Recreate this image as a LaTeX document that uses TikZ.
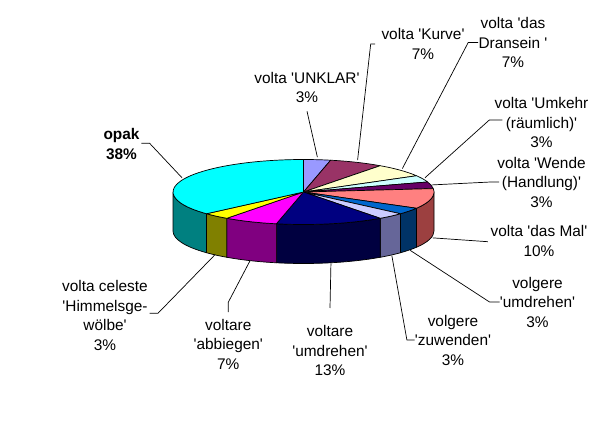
\documentclass[tikz,border=0pt]{standalone}
\usepackage{fontspec}
\setmainfont{Liberation Sans}
\usetikzlibrary{calc,positioning}
\definecolor{cUnklar}{HTML}{9999FF}
\definecolor{cKurve}{HTML}{993366}
\definecolor{cDransein}{HTML}{FFFFCC}
\definecolor{cUmkehr}{HTML}{CCFFFF}
\definecolor{cWende}{HTML}{660066}
\definecolor{cMal}{HTML}{FF8080}
\definecolor{cVolgUmdr}{HTML}{0066CC}
\definecolor{cZuwenden}{HTML}{CCCCFF}
\definecolor{cVoltUmdr}{HTML}{000080}
\definecolor{cAbbiegen}{HTML}{FF00FF}
\definecolor{cCeleste}{HTML}{FFFF00}
\definecolor{cOpak}{HTML}{00FFFF}
\definecolor{dMal}{HTML}{9C4040}
\definecolor{dVolgUmdr}{HTML}{003366}
\definecolor{dZuwenden}{HTML}{666699}
\definecolor{dVoltUmdr}{HTML}{000040}
\definecolor{dAbbiegen}{HTML}{800080}
\definecolor{dCeleste}{HTML}{808000}
\definecolor{dOpak}{HTML}{008080}
\newcommand{\sq}{\textquotesingle}
\begin{document}
\begin{tikzpicture}[x=1pt,y=1pt,line width=0.7pt,
  lbl/.style={font=\fontsize{15.4}{19.5}\selectfont,align=center,inner sep=0pt},
  slice/.style={draw=black,line join=round}]
\useasboundingbox[fill=white] (0,0) rectangle (610,432);
\begin{scope}[shift={(303.5,240)}]
\coordinate (O) at (0,0);
% side of the pie
\filldraw[slice,fill=dMal] (0:130.5 and 32.5) arc (0:-30:130.5 and 32.5) -- ++(0,-39) arc (-30:0:130.5 and 32.5) -- cycle;
\filldraw[slice,fill=dVolgUmdr] (-30:130.5 and 32.5) arc (-30:-42:130.5 and 32.5) -- ++(0,-39) arc (-42:-30:130.5 and 32.5) -- cycle;
\filldraw[slice,fill=dZuwenden] (-42:130.5 and 32.5) arc (-42:-54:130.5 and 32.5) -- ++(0,-39) arc (-54:-42:130.5 and 32.5) -- cycle;
\filldraw[slice,fill=dVoltUmdr] (-54:130.5 and 32.5) arc (-54:-102:130.5 and 32.5) -- ++(0,-39) arc (-102:-54:130.5 and 32.5) -- cycle;
\filldraw[slice,fill=dAbbiegen] (-102:130.5 and 32.5) arc (-102:-126:130.5 and 32.5) -- ++(0,-39) arc (-126:-102:130.5 and 32.5) -- cycle;
\filldraw[slice,fill=dCeleste] (-126:130.5 and 32.5) arc (-126:-138:130.5 and 32.5) -- ++(0,-39) arc (-138:-126:130.5 and 32.5) -- cycle;
\filldraw[slice,fill=dOpak] (-138:130.5 and 32.5) arc (-138:-180:130.5 and 32.5) -- ++(0,-39) arc (-180:-138:130.5 and 32.5) -- cycle;
% top of the pie
\filldraw[slice,fill=cUnklar] (O) -- (90:130.5 and 32.5) arc (90:78:130.5 and 32.5) -- cycle;
\filldraw[slice,fill=cKurve] (O) -- (78:130.5 and 32.5) arc (78:54:130.5 and 32.5) -- cycle;
\filldraw[slice,fill=cDransein] (O) -- (54:130.5 and 32.5) arc (54:30:130.5 and 32.5) -- cycle;
\filldraw[slice,fill=cUmkehr] (O) -- (30:130.5 and 32.5) arc (30:18:130.5 and 32.5) -- cycle;
\filldraw[slice,fill=cWende] (O) -- (18:130.5 and 32.5) arc (18:6:130.5 and 32.5) -- cycle;
\filldraw[slice,fill=cMal] (O) -- (6:130.5 and 32.5) arc (6:-30:130.5 and 32.5) -- cycle;
\filldraw[slice,fill=cVolgUmdr] (O) -- (-30:130.5 and 32.5) arc (-30:-42:130.5 and 32.5) -- cycle;
\filldraw[slice,fill=cZuwenden] (O) -- (-42:130.5 and 32.5) arc (-42:-54:130.5 and 32.5) -- cycle;
\filldraw[slice,fill=cVoltUmdr] (O) -- (-54:130.5 and 32.5) arc (-54:-102:130.5 and 32.5) -- cycle;
\filldraw[slice,fill=cAbbiegen] (O) -- (-102:130.5 and 32.5) arc (-102:-126:130.5 and 32.5) -- cycle;
\filldraw[slice,fill=cCeleste] (O) -- (-126:130.5 and 32.5) arc (-126:-138:130.5 and 32.5) -- cycle;
\filldraw[slice,fill=cOpak] (O) -- (-138:130.5 and 32.5) arc (-138:-270:130.5 and 32.5) -- cycle;
% where the leaders meet the pie
\coordinate (pUnklar) at (84:133 and 35);
\coordinate (pKurve) at (66:133 and 35);
\coordinate (pDransein) at (42:133 and 35);
\coordinate (pUmkehr) at (24:133 and 35);
\coordinate (pWende) at (12:131 and 34);
\coordinate (pMal) at ($(-12:132 and 33)+(0,-39)$);
\coordinate (pVolgUmdr) at ($(-36:132 and 33)+(0,-39)$);
\coordinate (pZuwenden) at ($(-48:132 and 33)+(0,-39)$);
\coordinate (pVoltUmdr) at ($(-78:132 and 33)+(0,-39)$);
\coordinate (pAbbiegen) at ($(-114:132 and 33)+(0,-39)$);
\coordinate (pCeleste) at ($(-132:132 and 33)+(0,-38)$);
\coordinate (pOpak) at (156:133 and 35);
\end{scope}
% labels
\node (unklar) at (307,344.5) [lbl] {volta \sq UNKLAR\sq\\3\%};
\node (kurve) at (423,388) [lbl] {volta \sq Kurve\sq\\7\%};
\node (dransein) at (513,389.5) [lbl] {volta \sq das\\Dransein \sq\\7\%};
\node (umkehr) at (541.5,309.5) [lbl] {volta \sq Umkehr\\(räumlich)\sq\\3\%};
\node (wende) at (541.5,250) [lbl] {volta \sq Wende\\(Handlung)\sq\\3\%};
\node (mal) at (539,191) [lbl] {volta \sq das Mal\sq\\10\%};
\node (volgUmdr) at (537.5,130) [lbl] {volgere\\\sq umdrehen\sq\\3\%};
\node (zuwenden) at (453,92) [lbl] {volgere\\\sq zuwenden\sq\\3\%};
\node (voltUmdr) at (330,81.5) [lbl] {voltare\\\sq umdrehen\sq\\13\%};
\node (abbiegen) at (228.3,87.8) [lbl] {voltare\\\sq abbiegen\sq\\7\%};
\node (celeste) at (105,116.5) [lbl] {volta celeste\\\sq Himmelsge-\\wölbe\sq\\3\%};
\node (opak) at (121.5,288) [lbl,font=\fontsize{15.4}{19.5}\selectfont\bfseries] {opak\\38\%};
% leaders
\draw ([yshift=-8pt]unklar.south) -- (pUnklar);
\draw ([xshift=-6pt]kurve.west) -- ++(-4.5,0) -- (pKurve);
\draw (dransein.west) -- ++(-10,0) -- (pDransein);
\draw ([xshift=8pt,yshift=2.5pt]umkehr.west) -- ++(-13,0) -- (pUmkehr);
\draw ([xshift=2pt]wende.west) -- ++(-8.5,0) -- (pWende);
\draw ([xshift=-2.5pt,yshift=-0.7pt]mal.west) -- (pMal);
\draw (volgUmdr.west) -- ++(-10,0) -- (pVolgUmdr);
\draw (zuwenden.west) -- ++(-7.7,0) -- (pZuwenden);
\draw ([yshift=17pt]voltUmdr.north) -- (pVoltUmdr);
\draw ([yshift=6.5pt]abbiegen.north) -- ++(0,10) -- (pAbbiegen);
\draw ([xshift=1.5pt,yshift=2.2pt]celeste.east) -- ++(8.3,0) -- (pCeleste);
\draw ([xshift=1.5pt,yshift=0.7pt]opak.east) -- ++(8.3,0) -- (pOpak);
\end{tikzpicture}
\end{document}
